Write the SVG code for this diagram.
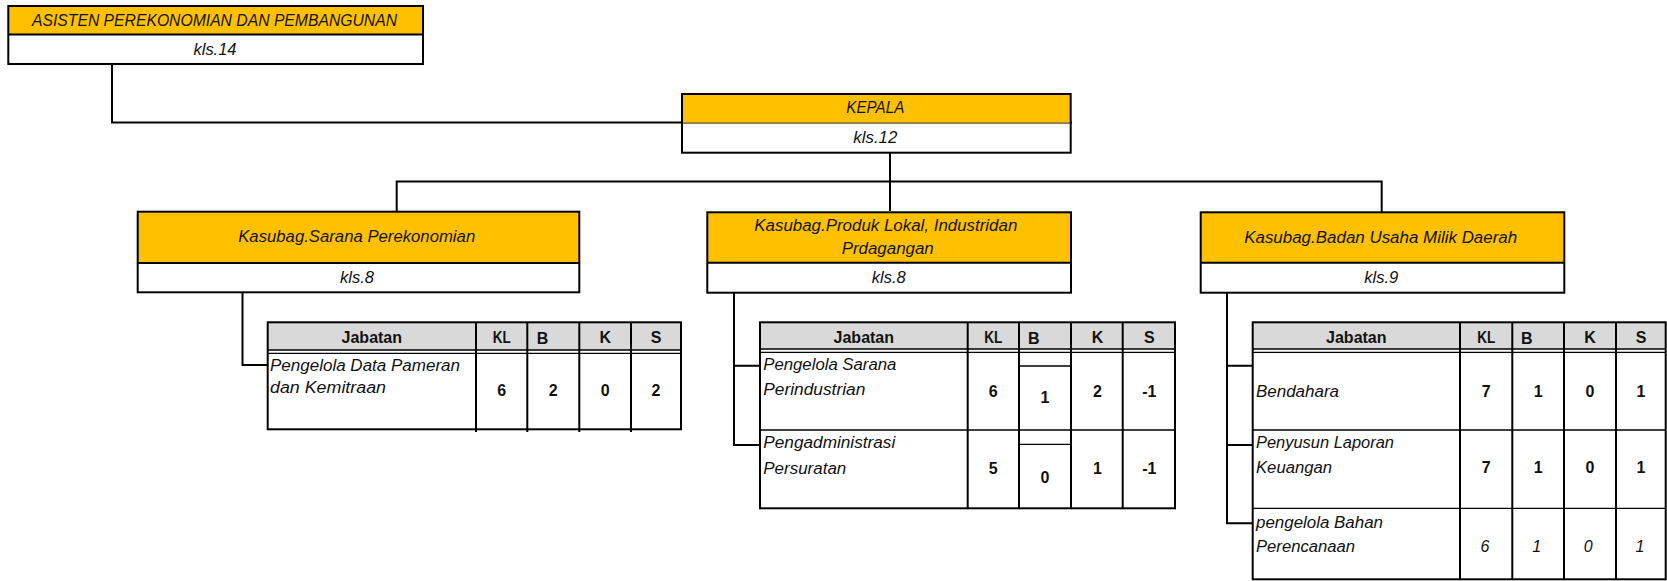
<svg xmlns="http://www.w3.org/2000/svg" width="1667" height="581" viewBox="0 0 1667 581">
<style>
text{font-family:"Liberation Sans",Arial,sans-serif;font-size:16px;fill:#111;}
.i{font-style:italic;}
.b{font-weight:bold;}
.m{text-anchor:middle;}
.hd{fill:#ffc000;stroke:none;}
.box{fill:none;stroke:#000;stroke-width:2;}
.ln{fill:none;stroke:#000;stroke-width:2;}
.tn{fill:none;stroke:#000;stroke-width:1.3;}
.gh{fill:#d9d9d9;}
</style>
<rect width="1667" height="581" fill="#fff"/>
<g id="connectors">
<path class="ln" d="M112,64 V122.5 H1072"/>
<path class="ln" d="M890,153 V211"/>
<path class="ln" d="M396.7,211 V181.5 H1381.7 V212"/>
<path class="ln" d="M242.5,292.3 V365 H267.7"/>
<path class="ln" d="M734,292.7 V445 H760 M734,365.7 H760"/>
<path class="ln" d="M1227,292.7 V523.3 H1252.7 M1227,365.7 H1252.7 M1227,445 H1252.7"/>
</g>
<g id="asisten">
<rect class="hd" x="8.3" y="6" width="414.7" height="28.5"/>
<rect class="box" x="8.3" y="6" width="414.7" height="58"/>
<line class="ln" x1="8.3" y1="34.5" x2="423" y2="34.5"/>
<text class="i m" x="214.5" y="26" textLength="365" lengthAdjust="spacingAndGlyphs">ASISTEN PEREKONOMIAN DAN PEMBANGUNAN</text>
<text class="i m" x="215" y="55" textLength="43" lengthAdjust="spacingAndGlyphs">kls.14</text>
</g>
<g id="kepala">
<rect class="hd" x="682" y="94" width="388.7" height="28.7"/>
<rect class="box" x="682" y="94" width="388.7" height="58.7"/>
<text class="i m" x="875.3" y="113.3" textLength="58" lengthAdjust="spacingAndGlyphs">KEPALA</text>
<text class="i m" x="875.3" y="143.3" textLength="44" lengthAdjust="spacingAndGlyphs">kls.12</text>
</g>
<g id="kasubag-sarana">
<rect class="hd" x="137.7" y="211.7" width="441.6" height="51.3"/>
<rect class="box" x="137.7" y="211.7" width="441.6" height="80.6"/>
<line class="ln" x1="137.7" y1="263" x2="579.3" y2="263"/>
<text class="i m" x="356.7" y="242.3" textLength="237" lengthAdjust="spacingAndGlyphs">Kasubag.Sarana Perekonomian</text>
<text class="i m" x="357" y="283.3" textLength="34" lengthAdjust="spacingAndGlyphs">kls.8</text>
</g>
<g id="kasubag-produk">
<rect class="hd" x="707.3" y="212.3" width="363.7" height="50.4"/>
<rect class="box" x="707.3" y="212.3" width="363.7" height="80.4"/>
<line class="ln" x1="707.3" y1="262.7" x2="1071" y2="262.7"/>
<text class="i m" x="885.8" y="230.7" textLength="263" lengthAdjust="spacingAndGlyphs">Kasubag.Produk Lokal, Industridan</text>
<text class="i m" x="887.7" y="254" textLength="92" lengthAdjust="spacingAndGlyphs">Prdagangan</text>
<text class="i m" x="888.7" y="283.3" textLength="34" lengthAdjust="spacingAndGlyphs">kls.8</text>
</g>
<g id="kasubag-bumd">
<rect class="hd" x="1200.7" y="212.3" width="363.6" height="50.4"/>
<rect class="box" x="1200.7" y="212.3" width="363.6" height="80.4"/>
<line class="ln" x1="1200.7" y1="262.7" x2="1564.3" y2="262.7"/>
<text class="i m" x="1380.7" y="242.7" textLength="273" lengthAdjust="spacingAndGlyphs">Kasubag.Badan Usaha Milik Daerah</text>
<text class="i m" x="1381.3" y="283.3" textLength="34" lengthAdjust="spacingAndGlyphs">kls.9</text>
</g>
<g id="table-sarana">
<rect class="gh" x="267.7" y="322.3" width="413.3" height="28"/>
<rect class="box" x="267.7" y="322.3" width="413.3" height="107"/>
<line class="tn" x1="267.7" y1="350" x2="681" y2="350"/>
<line class="tn" x1="267.7" y1="353.3" x2="681" y2="353.3"/>
<path class="ln" d="M476,322.3 V432 M527.3,322.3 V432 M579.3,322.3 V432 M631,322.3 V432"/>
<text class="b m" x="371.8" y="343">Jabatan</text>
<text class="b m" x="501.7" y="343" textLength="18" lengthAdjust="spacingAndGlyphs">KL</text>
<text class="b" x="536.7" y="344">B</text>
<text class="b m" x="605.2" y="343">K</text>
<text class="b m" x="656" y="343">S</text>
<text class="i" x="270" y="371" textLength="190" lengthAdjust="spacingAndGlyphs">Pengelola Data Pameran</text>
<text class="i" x="270" y="392.7" textLength="116" lengthAdjust="spacingAndGlyphs">dan Kemitraan</text>
<text class="b m" x="501.7" y="396">6</text>
<text class="b m" x="553.3" y="396">2</text>
<text class="b m" x="605.2" y="396">0</text>
<text class="b m" x="656" y="396">2</text>
</g>
<g id="table-produk">
<rect class="gh" x="760" y="322.3" width="415" height="27"/>
<rect class="box" x="760" y="322.3" width="415" height="186"/>
<line class="tn" x1="760" y1="349" x2="1175" y2="349"/>
<line class="tn" x1="760" y1="352.3" x2="1175" y2="352.3"/>
<path class="ln" d="M967.7,322.3 V508.3 M1019,322.3 V508.3 M1071,322.3 V508.3 M1122.7,322.3 V508.3"/>
<line class="tn" x1="760" y1="430" x2="1175" y2="430"/>
<line class="tn" x1="1019" y1="366" x2="1071" y2="366"/>
<line class="tn" x1="1019" y1="444.3" x2="1071" y2="444.3"/>
<text class="b m" x="863.8" y="342.5">Jabatan</text>
<text class="b m" x="993.3" y="342.5" textLength="18" lengthAdjust="spacingAndGlyphs">KL</text>
<text class="b" x="1028" y="343.5">B</text>
<text class="b m" x="1097.5" y="342.5">K</text>
<text class="b m" x="1149.3" y="342.5">S</text>
<text class="i" x="763.3" y="370" textLength="133" lengthAdjust="spacingAndGlyphs">Pengelola Sarana</text>
<text class="i" x="763.3" y="395" textLength="102" lengthAdjust="spacingAndGlyphs">Perindustrian</text>
<text class="b m" x="993.3" y="396.7">6</text>
<text class="b m" x="1045" y="403.3">1</text>
<text class="b m" x="1097.5" y="396.7">2</text>
<text class="b m" x="1149.3" y="396.7">-1</text>
<text class="i" x="763.3" y="448.3" textLength="132" lengthAdjust="spacingAndGlyphs">Pengadministrasi</text>
<text class="i" x="763.3" y="474" textLength="83" lengthAdjust="spacingAndGlyphs">Persuratan</text>
<text class="b m" x="993.3" y="474">5</text>
<text class="b m" x="1045" y="482.7">0</text>
<text class="b m" x="1097.5" y="474">1</text>
<text class="b m" x="1149.3" y="474">-1</text>
</g>
<g id="table-bumd">
<rect class="gh" x="1252.7" y="322.3" width="413" height="27"/>
<rect class="box" x="1252.7" y="322.3" width="413" height="257"/>
<line class="tn" x1="1252.7" y1="349" x2="1665.7" y2="349"/>
<line class="tn" x1="1252.7" y1="352.3" x2="1665.7" y2="352.3"/>
<path class="ln" d="M1460,322.3 V579.3 M1512.3,322.3 V579.3 M1564,322.3 V579.3 M1616,322.3 V579.3"/>
<line class="tn" x1="1252.7" y1="430" x2="1665.7" y2="430"/>
<line class="tn" x1="1252.7" y1="508.3" x2="1665.7" y2="508.3"/>
<text class="b m" x="1356.3" y="342.5">Jabatan</text>
<text class="b m" x="1486.2" y="342.5" textLength="18" lengthAdjust="spacingAndGlyphs">KL</text>
<text class="b" x="1521" y="343.5">B</text>
<text class="b m" x="1590" y="342.5">K</text>
<text class="b m" x="1641" y="342.5">S</text>
<text class="i" x="1256" y="396.7" textLength="83" lengthAdjust="spacingAndGlyphs">Bendahara</text>
<text class="b m" x="1486.2" y="396.7">7</text>
<text class="b m" x="1538.2" y="396.7">1</text>
<text class="b m" x="1590" y="396.7">0</text>
<text class="b m" x="1641" y="396.7">1</text>
<text class="i" x="1256" y="448.3" textLength="138" lengthAdjust="spacingAndGlyphs">Penyusun Laporan</text>
<text class="i" x="1256" y="473.3" textLength="76" lengthAdjust="spacingAndGlyphs">Keuangan</text>
<text class="b m" x="1486.2" y="473.3">7</text>
<text class="b m" x="1538.2" y="473.3">1</text>
<text class="b m" x="1590" y="473.3">0</text>
<text class="b m" x="1641" y="473.3">1</text>
<text class="i" x="1256" y="528.3" textLength="127" lengthAdjust="spacingAndGlyphs">pengelola Bahan</text>
<text class="i" x="1256" y="551.7" textLength="99" lengthAdjust="spacingAndGlyphs">Perencanaan</text>
<text class="i m" x="1485" y="551.7">6</text>
<text class="i m" x="1536.7" y="551.7">1</text>
<text class="i m" x="1588.3" y="551.7">0</text>
<text class="i m" x="1640" y="551.7">1</text>
</g>
</svg>
